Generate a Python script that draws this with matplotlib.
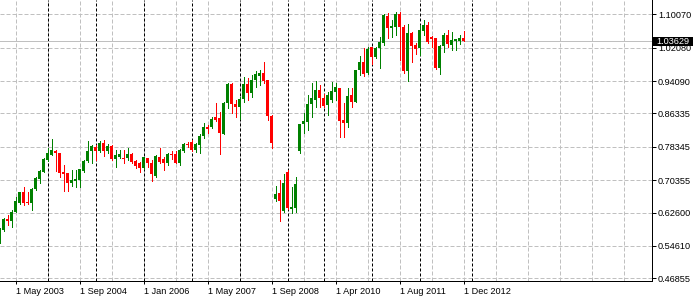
import numpy as np
import matplotlib
matplotlib.use("Agg")
import matplotlib.pyplot as plt
from matplotlib.patches import Rectangle

# ── monthly OHLC (bar index 0 = Jan 2003) ────────────────────────────────────
opens = [
    0.5603, 0.5842, 0.6113, 0.6058, 0.6273, 0.6489, 0.6759, 0.6520, 0.6481, 0.6817,
    0.7056, 0.7238, 0.7518, 0.7638, 0.7734, 0.7693, 0.7238, 0.7200, 0.6975, 0.7023,
    0.7039, 0.7262, 0.7501, 0.7741, 0.7837, 0.7741, 0.7918, 0.7727, 0.7853, 0.7542,
    0.7583, 0.7559, 0.7559, 0.7655, 0.7494, 0.7439, 0.7334, 0.7559, 0.7454, 0.7135,
    0.7597, 0.7542, 0.7439, 0.7655, 0.7655, 0.7454, 0.7741, 0.7901, 0.7949, 0.7758,
    0.7877, 0.8093, 0.8316, 0.8316, 0.8541, 0.8524, 0.8141, 0.8890, 0.9338, 0.8859,
    0.8795, 0.8972, 0.9338, 0.9130, 0.9434, 0.9530, 0.9609, 0.9434, 0.8579, 0.6592,
    0.6735, 0.6304, 0.7238, 0.6345, 0.6376, 0.7741, 0.8380, 0.8435, 0.8852, 0.8955,
    0.9194, 0.8996, 0.8835, 0.8955, 0.9146, 0.9242, 0.8476, 0.8411, 0.9075, 0.8914,
    0.9673, 0.9872, 0.9594, 1.0231, 0.9977, 1.0193, 1.0327, 1.0966, 1.0672, 1.0710,
    1.1014, 1.0703, 0.9661, 1.0552, 1.0272, 1.0212, 1.0614, 1.0751, 1.0463, 1.0432,
    0.9721, 1.0248, 1.0511, 1.0272, 1.0375, 1.0368, 1.0447,
]
highs = [
    0.5890, 0.6129, 0.6201, 0.6321, 0.6639, 0.6759, 0.6872, 0.6745, 0.6841, 0.7118,
    0.7279, 0.7559, 0.7798, 0.8021, 0.7758, 0.7693, 0.7399, 0.7200, 0.7279, 0.7279,
    0.7296, 0.7518, 0.7980, 0.7877, 0.7877, 0.7980, 0.7997, 0.7901, 0.7877, 0.7758,
    0.7758, 0.7758, 0.7798, 0.7679, 0.7518, 0.7478, 0.7597, 0.7559, 0.7518, 0.7638,
    0.7806, 0.7597, 0.7679, 0.7734, 0.7741, 0.7774, 0.7932, 0.7956, 0.7997, 0.7932,
    0.8141, 0.8411, 0.8356, 0.8555, 0.8890, 0.8675, 0.8914, 0.9369, 0.9369, 0.8955,
    0.9034, 0.9513, 0.9475, 0.9554, 0.9656, 0.9673, 0.9872, 0.9434, 0.8596, 0.6896,
    0.7039, 0.7176, 0.7279, 0.6879, 0.7118, 0.8380, 0.8636, 0.9075, 0.9355, 0.9417,
    0.9314, 0.9099, 0.9154, 0.9393, 0.9369, 0.9242, 0.8883, 0.9235, 0.9235, 0.9673,
    1.0009, 1.0193, 1.0231, 1.0231, 1.0231, 1.0471, 1.1014, 1.1031, 1.0871, 1.1069,
    1.1069, 1.0739, 1.0763, 1.0590, 1.0327, 1.0751, 1.0871, 1.0830, 1.0487, 1.0432,
    1.0272, 1.0559, 1.0631, 1.0583, 1.0408, 1.0511, 1.0619,
]
lows = [
    0.5531, 0.5818, 0.5962, 0.5914, 0.6266, 0.6465, 0.6448, 0.6457, 0.6321, 0.6800,
    0.6960, 0.7231, 0.7501, 0.7631, 0.7262, 0.7118, 0.6783, 0.6783, 0.6896, 0.6864,
    0.6864, 0.7238, 0.7478, 0.7439, 0.7518, 0.7717, 0.7614, 0.7679, 0.7518, 0.7358,
    0.7559, 0.7439, 0.7518, 0.7439, 0.7319, 0.7238, 0.7296, 0.7358, 0.7023, 0.7118,
    0.7439, 0.7279, 0.7399, 0.7542, 0.7439, 0.7399, 0.7717, 0.7837, 0.7741, 0.7717,
    0.7679, 0.8038, 0.8158, 0.8277, 0.8452, 0.7662, 0.8141, 0.8756, 0.8651, 0.8555,
    0.8493, 0.8914, 0.8955, 0.9034, 0.9273, 0.9314, 0.9355, 0.8476, 0.7798, 0.6536,
    0.6065, 0.6280, 0.6338, 0.6256, 0.6280, 0.7686, 0.8158, 0.8237, 0.8555, 0.8780,
    0.8795, 0.8795, 0.8596, 0.8914, 0.8955, 0.8076, 0.8076, 0.8301, 0.8780, 0.8914,
    0.9554, 0.9530, 0.9578, 0.9817, 0.9953, 0.9714, 1.0272, 1.0432, 1.0463, 1.0511,
    0.9913, 0.9602, 0.9398, 0.9865, 1.0056, 1.0032, 1.0511, 1.0313, 1.0231, 0.9697,
    0.9578, 1.0104, 1.0224, 1.0152, 1.0152, 1.0289, 1.03629,
]
closes = [
    0.5842, 0.6105, 0.6050, 0.6273, 0.6544, 0.6745, 0.6481, 0.6481, 0.6817, 0.7094,
    0.7262, 0.7535, 0.7679, 0.7758, 0.7679, 0.7214, 0.7176, 0.6975, 0.7039, 0.7056,
    0.7296, 0.7501, 0.7741, 0.7853, 0.7741, 0.7932, 0.7727, 0.7861, 0.7535, 0.7638,
    0.7662, 0.7535, 0.7655, 0.7478, 0.7382, 0.7334, 0.7597, 0.7439, 0.7176, 0.7614,
    0.7478, 0.7439, 0.7655, 0.7631, 0.7454, 0.7758, 0.7901, 0.7877, 0.7758, 0.7901,
    0.8093, 0.8301, 0.8261, 0.8493, 0.8476, 0.8172, 0.8890, 0.9338, 0.8859, 0.8780,
    0.8979, 0.9338, 0.9130, 0.9434, 0.9578, 0.9609, 0.9410, 0.8579, 0.7932, 0.6704,
    0.6536, 0.6975, 0.6362, 0.6400, 0.6944, 0.8380, 0.8459, 0.8859, 0.9010, 0.9194,
    0.8996, 0.8811, 0.9075, 0.9170, 0.9266, 0.8452, 0.8411, 0.9051, 0.8914, 0.9673,
    0.9872, 0.9578, 1.0176, 0.9977, 1.0193, 1.0351, 1.0990, 1.0672, 1.0727, 1.1014,
    1.0703, 0.9649, 1.0552, 1.0248, 1.0169, 1.0631, 1.0751, 1.0332, 1.0408, 0.9721,
    1.0248, 1.0511, 1.0291, 1.0392, 1.0408, 1.0447, 1.03629,
]

date_labels = ["1 May 2003", "1 Sep 2004", "1 Jan 2006", "1 May 2007",
               "1 Sep 2008", "1 Apr 2010", "1 Aug 2011", "1 Dec 2012"]
date_label_bars = [4, 20, 36, 52, 68, 84, 100, 116]
year_start_bars = [12, 24, 36, 48, 60, 72, 81, 93, 105, 118]
price_ticks = [1.10070, 1.02080, 0.94090, 0.86335, 0.78345,
               0.70355, 0.62600, 0.54610, 0.46855]
last_price = 1.03629

# ── style ────────────────────────────────────────────────────────────────────
UP = "#008000"
DOWN = "#ff0000"
GRID = "#c0c0c0"
PX = 0.72                       # one pixel in points at dpi 100

plt.rcParams["font.family"] = ["Liberation Sans", "DejaVu Sans"]
plt.rcParams["font.size"] = 6.6
plt.rcParams["lines.scale_dashes"] = False

W, H = 693, 298
fig = plt.figure(figsize=(W / 100, H / 100), dpi=100, facecolor="white")
ax = fig.add_axes([0, 1 - 281 / H, 652 / W, 281 / H])
ax.set_facecolor("white")

o = np.array(opens)
h = np.array(highs)
l = np.array(lows)
c = np.array(closes)
x = np.arange(len(o))
colors = np.where(c >= o, UP, DOWN)

# candles
ax.vlines(x, l, h, colors=colors, linewidth=PX, antialiased=False, zorder=4)
body = np.maximum(np.abs(c - o), 0.0012)
ax.bar(x, body, bottom=np.minimum(o, c), width=0.75, color=colors,
       edgecolor=colors, linewidth=0, antialiased=False, zorder=5)

ax.set_xlim(0.125, 0.125 + 652 / 4)
ax.set_ylim(0.46209, 1.13494)

# grid
dash = (0, (2.88, 1.44))
ax.set_yticks(price_ticks)
ax.set_yticklabels([f"{v:.5f}" for v in price_ticks])
ax.set_xticks(date_label_bars)
ax.set_xticklabels(date_labels, ha="left")
ax.set_xticks(np.arange(4, 160, 8), minor=True)
ax.grid(axis="y", color=GRID, linestyle=dash, linewidth=PX, zorder=1)
ax.grid(axis="x", which="both", color=GRID, linestyle=dash, linewidth=PX, zorder=1)
ax.set_axisbelow(True)

# yearly period separators
for b in year_start_bars:
    ax.axvline(b, color="black", linestyle=(0, (2.16, 1.44)), linewidth=PX, zorder=2)

# current price line
ax.axhline(last_price, color=GRID, linewidth=PX, zorder=3)

# spines / ticks
for s in ("left", "top"):
    ax.spines[s].set_visible(False)
for s in ("right", "bottom"):
    ax.spines[s].set_color("black")
    ax.spines[s].set_linewidth(PX)
ax.yaxis.tick_right()
ax.tick_params(axis="y", direction="out", length=4 * PX, width=PX, pad=1.5,
               colors="black", labelsize=6.6)
ax.tick_params(axis="x", which="major", direction="out", length=3 * PX, width=PX,
               pad=2.4, colors="black", labelsize=6.6)
ax.tick_params(axis="x", which="minor", length=0)

# current price tag (covers the upper part of the 1.02080 label, as in MT4)
fig.patches.append(Rectangle((653 / W, 1 - 46 / H), 40 / W, 9 / H,
                             transform=fig.transFigure, facecolor="black",
                             edgecolor="none", zorder=5))
fig.text(656 / W, 1 - 41.3 / H, f"{last_price:.5f}", color="white",
         ha="left", va="center", fontsize=6.6, zorder=6)

fig.savefig("out.png", dpi=100, facecolor="white")
